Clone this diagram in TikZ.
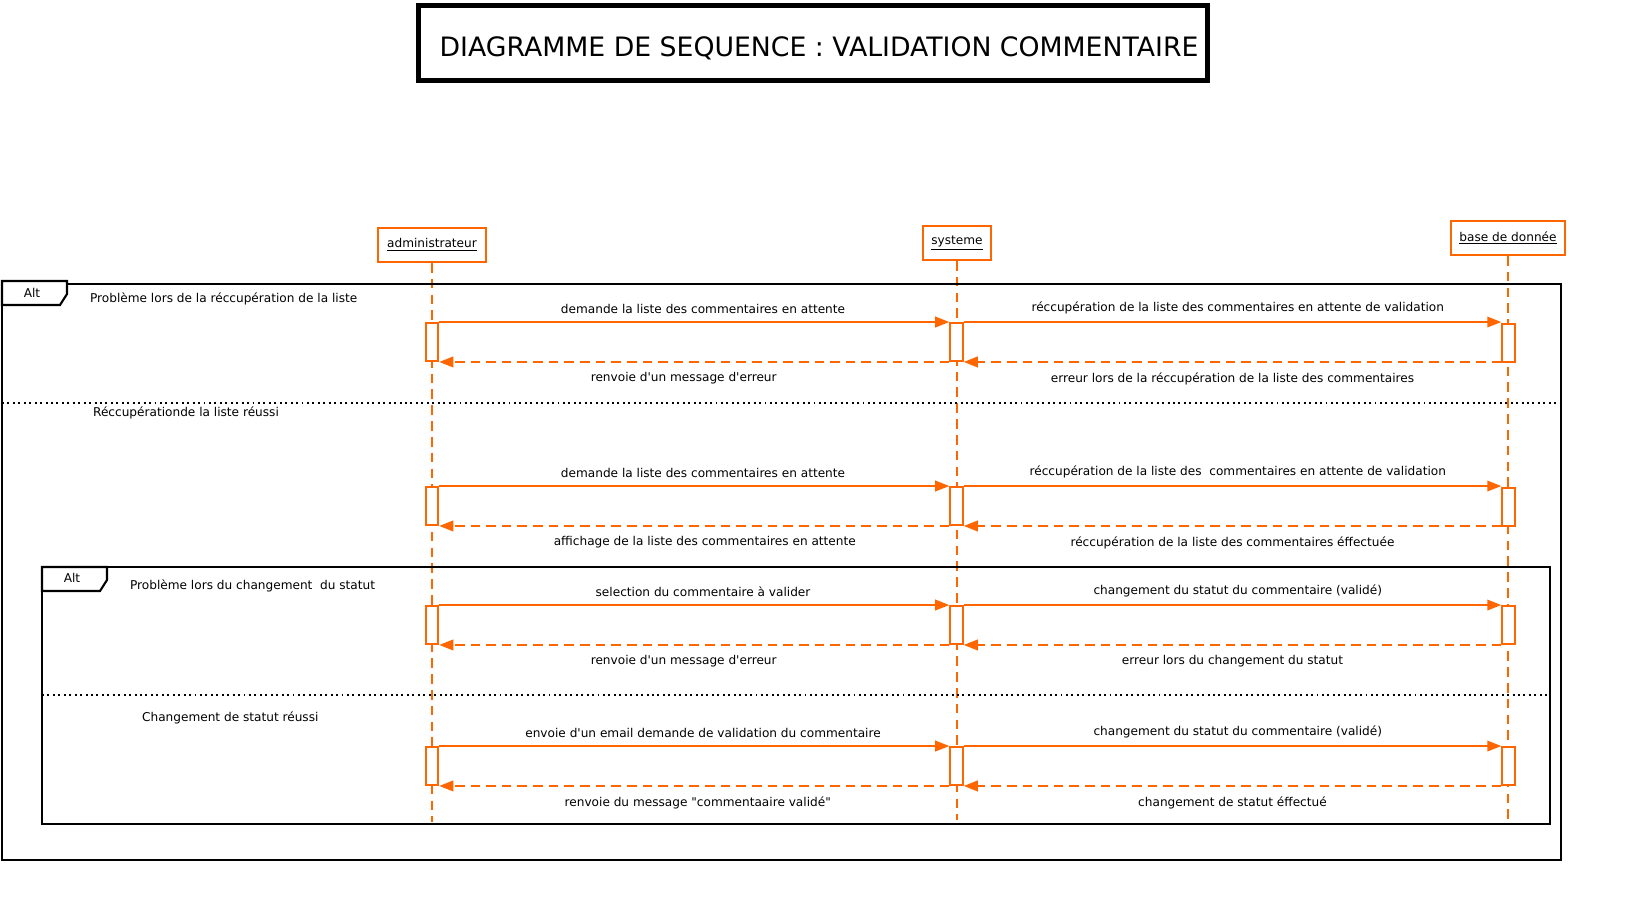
\documentclass[tikz,border=0pt]{standalone}
\usepackage{fontspec}
\newfontfamily\dejavu{DejaVu Sans}
\usetikzlibrary{arrows.meta}

\definecolor{Life}{HTML}{FF6600}

\begin{document}
\begin{tikzpicture}[x=0.02cm, y=-0.02cm,
  lbl/.style={font=\dejavu\fontsize{6.9}{8}\selectfont, inner sep=1pt},
  actor/.style={draw=Life, line width=1.1pt, fill=white, inner xsep=5pt, minimum height=0.68cm, font=\dejavu\fontsize{6.9}{8}\selectfont},
  act/.style={draw=Life, line width=1.1pt, fill=white, minimum width=0.25cm, minimum height=0.76cm, inner sep=0pt},
  msg/.style={draw=Life, line width=1.1pt, -{Triangle[length=8pt, width=6pt]}},
  ret/.style={msg, dash pattern=on 5.5pt off 3.4pt},
  life/.style={draw=Life, line width=0.6pt, dash pattern=on 5.5pt off 3.5pt},
  frame/.style={draw=black, line width=1.2pt},
  sep/.style={draw=black, line width=1.1pt, dotted}]

 \useasboundingbox (0,0) rectangle (1652,909) ;

 %%%%%%%%%% Titre %%%%%%%%%%
 \draw [line width=2.8pt] (418.5,5.5) rectangle (1207.5,80.5) ;
 \node[font=\dejavu\fontsize{15.2}{18}\selectfont] (titre) at (819,48) {DIAGRAMME DE SEQUENCE : VALIDATION COMMENTAIRE} ;

 %%%%%%%%%% Acteurs %%%%%%%%%%
 \node[actor] (adm) at (432,245) {\underline{administrateur}} ;
 \node[actor] (sys) at (957,243) {\underline{systeme}} ;
 \node[actor] (bdd) at (1508,238) {\underline{base de donnée}} ;

 \coordinate (admEnd) at (432,822) ;
 \coordinate (sysEnd) at (957,820) ;
 \coordinate (bddEnd) at (1508,824) ;

 \draw [life] (adm) -- (admEnd) ;
 \draw [life] (sys) -- (sysEnd) ;
 \draw [life] (bdd) -- (bddEnd) ;

 %%%%%%%%%% Alt exterieur %%%%%%%%%%
 \draw [frame] (2,284) rectangle (1561,860) ;
 \draw [frame, fill=white] (2,281) -- (67,281) -- (67,294) -- (60,305) -- (2,305) -- cycle ;
 \node[lbl] (alt1) at (32,293) {Alt} ;
 \node[lbl, anchor=west] (g1) at (88,299) {Problème lors de la réccupération de la liste} ;
 \draw [sep] (2,403) -- (1561,403) ;
 \node[lbl, anchor=west] (g2) at (91,413) {Réccupérationde la liste réussi} ;

 %%%%%%%%%% Alt interieur %%%%%%%%%%
 \draw [frame] (42,567) rectangle (1550,824) ;
 \draw [frame, fill=white] (42,567) -- (107,567) -- (107,580) -- (100,591) -- (42,591) -- cycle ;
 \node[lbl] (alt2) at (72,578) {Alt} ;
 \node[lbl, anchor=west] (g3) at (128,586) {Problème lors du changement~ du statut} ;
 \draw [sep] (42,695) -- (1550,695) ;
 \node[lbl, anchor=west] (g4) at (140,718) {Changement de statut réussi} ;

 %%%%%%%%%% Activations %%%%%%%%%%
 \node[act] (a1) at (432,342) {} ;
 \node[act] (s1) at (956.5,342) {} ;
 \node[act] (b1) at (1508.5,343) {} ;

 \node[act] (a2) at (432,506) {} ;
 \node[act] (s2) at (956.5,506) {} ;
 \node[act] (b2) at (1508.5,507) {} ;

 \node[act] (a3) at (432,625) {} ;
 \node[act] (s3) at (956.5,625) {} ;
 \node[act] (b3) at (1508.5,625) {} ;

 \node[act] (a4) at (432,766) {} ;
 \node[act] (s4) at (956.5,766) {} ;
 \node[act] (b4) at (1508.5,766) {} ;

 %%%%%%%%%% Messages 1 %%%%%%%%%%
 \draw [msg] (a1.north east) -- (s1.north west) node[lbl, midway, above=3pt, xshift=5pt] {demande la liste des commentaires en attente} ;
 \draw [msg] (s1.north east) -- (b1.north west |- s1.north) node[lbl, midway, above=3pt, xshift=3pt] {réccupération de la liste des commentaires en attente de validation} ;
 \draw [ret] (b1.south west |- s1.south) -- (s1.south east) node[lbl, midway, below=4.5pt] {erreur lors de la réccupération de la liste des commentaires} ;
 \draw [ret] (s1.south west) -- (a1.south east) node[lbl, midway, below=4.5pt, xshift=-6pt] {renvoie d'un message d'erreur} ;

 %%%%%%%%%% Messages 2 %%%%%%%%%%
 \draw [msg] (a2.north east) -- (s2.north west) node[lbl, midway, above=3pt, xshift=5pt] {demande la liste des commentaires en attente} ;
 \draw [msg] (s2.north east) -- (b2.north west |- s2.north) node[lbl, midway, above=3pt, xshift=3pt] {réccupération de la liste des~ commentaires en attente de validation} ;
 \draw [ret] (b2.south west |- s2.south) -- (s2.south east) node[lbl, midway, below=4.5pt] {réccupération de la liste des commentaires éffectuée} ;
 \draw [ret] (s2.south west) -- (a2.south east) node[lbl, midway, below=4.5pt, xshift=6pt] {affichage de la liste des commentaires en attente} ;

 %%%%%%%%%% Messages 3 %%%%%%%%%%
 \draw [msg] (a3.north east) -- (s3.north west) node[lbl, midway, above=3pt, xshift=5pt] {selection du commentaire à valider} ;
 \draw [msg] (s3.north east) -- (b3.north west) node[lbl, midway, above=3pt, xshift=3pt] {changement du statut du commentaire (validé)} ;
 \draw [ret] (b3.south west) -- (s3.south east) node[lbl, midway, below=4.5pt] {erreur lors du changement du statut} ;
 \draw [ret] (s3.south west) -- (a3.south east) node[lbl, midway, below=4.5pt, xshift=-6pt] {renvoie d'un message d'erreur} ;

 %%%%%%%%%% Messages 4 %%%%%%%%%%
 \draw [msg] (a4.north east) -- (s4.north west) node[lbl, midway, above=3pt, xshift=5pt] {envoie d'un email demande de validation du commentaire} ;
 \draw [msg] (s4.north east) -- (b4.north west) node[lbl, midway, above=3pt, xshift=3pt] {changement du statut du commentaire (validé)} ;
 \draw [ret] (b4.south west) -- (s4.south east) node[lbl, midway, below=4.5pt] {changement de statut éffectué} ;
 \draw [ret] (s4.south west) -- (a4.south east) node[lbl, midway, below=4.5pt, xshift=2pt] {renvoie du message "commentaaire validé"} ;

\end{tikzpicture}
\end{document}
